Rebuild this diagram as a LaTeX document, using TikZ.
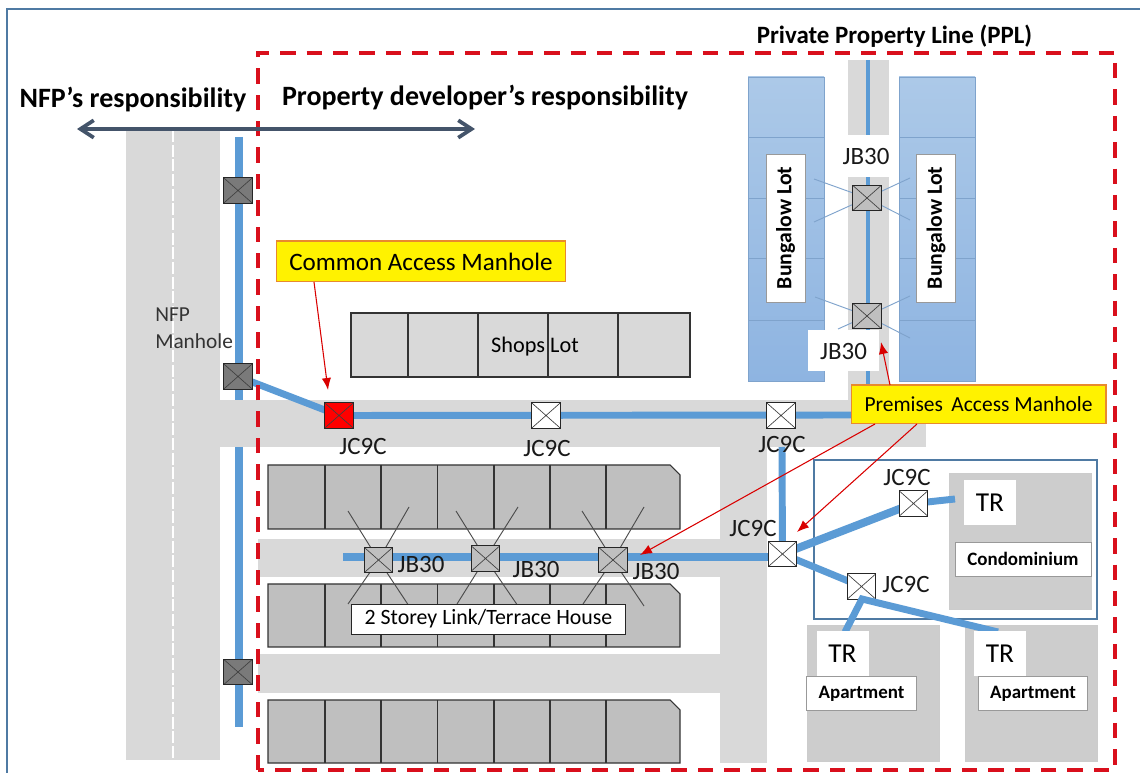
\documentclass[tikz,border=0pt]{standalone}
\usepackage{fontspec}
\setmainfont{Carlito}
\usetikzlibrary{arrows.meta}
\pgfdeclarelayer{scene}\pgfdeclarelayer{pipes}
\pgfsetlayers{scene,pipes,main}
\definecolor{road}{HTML}{D9D9D9}
\definecolor{house}{HTML}{BFBFBF}
\definecolor{plot}{HTML}{CDCDCD}
\definecolor{pipe}{HTML}{5B9BD5}
\definecolor{ppl}{HTML}{D90F1C}
\definecolor{slate}{HTML}{44546A}
\definecolor{frameblue}{HTML}{4F7AA3}
\definecolor{lotline}{HTML}{7FA3CC}
\definecolor{lottop}{HTML}{ACC9E8}
\definecolor{lotbot}{HTML}{8EB4E1}
\definecolor{calloutedge}{HTML}{E88A2E}
\tikzset{
  mh/.style={draw=black!85,line width=.8pt,minimum width=21.5pt,minimum height=19pt,inner sep=0,
    path picture={\draw[black!75,line width=.5pt] (path picture bounding box.north west)--(path picture bounding box.south east)
      (path picture bounding box.north east)--(path picture bounding box.south west);}},
  nfpmh/.style={mh,fill=black!52},
  jb/.style={mh,fill=house},
  jc/.style={mh,fill=white},
  cam/.style={mh,fill=red},
  bigpipe/.style={pipe,line width=5.5pt},
  midpipe/.style={pipe,line width=5.2pt},
  thinpipe/.style={pipe,line width=2.7pt},
  xline/.style={black!70,line width=.7pt},
  lotx/.style={lotline,line width=.7pt},
  lbl/.style={font=\fontsize{18.7}{20}\selectfont,text=black!90,inner sep=0},
  head/.style={font=\fontsize{21}{23}\selectfont\bfseries,inner sep=0},
  callout/.style={draw=calloutedge,line width=1pt,fill=yellow,inner sep=0},
  whitebox/.style={fill=white,inner sep=0},
  graybox/.style={draw=black!40,line width=.7pt,fill=white,inner sep=0,font=\fontsize{14.2}{16}\selectfont\bfseries},
  redarrow/.style={red!85!black,line width=.8pt,-{Latex[length=9pt,width=7pt]}},
  hrow/.style={draw=black!80,line width=.8pt,fill=house},
}
\begin{document}
\begin{tikzpicture}[x=0.75pt,y=-0.75pt]
\useasboundingbox (0,0) rectangle (1140,773);
\begin{pgfonlayer}{scene}
  \fill[white] (0,0) rectangle (1140,773);
  \draw[frameblue,line width=1.3pt] (1140,9) -- (7,9) -- (7,773);
  % roads
  \fill[road] (126,130) rectangle (220,760);
  \fill[road] (220,400) rectangle (926,447);
  \fill[road] (258,539) rectangle (720,577);
  \fill[road] (258,654) rectangle (720,693);
  \fill[road] (720,447) rectangle (767,763);
  \fill[road] (848,60) rectangle (889,400);
  \draw[white,line width=1pt,dash pattern=on 9pt off 2pt] (173,130) -- (173,760);
  % bungalow lots
  \foreach \xa/\xb in {748/824,899/975}{
    \shade[top color=lottop,bottom color=lotbot,draw=lotline,line width=.6pt] (\xa,77) rectangle (\xb,381);
    \foreach \y in {137.5,198,258,320} \draw[lotline,line width=.6pt] (\xa,\y) -- (\xb,\y);
  }
  % shops
  \draw[draw=black!80,line width=.8pt,fill=road] (351,313) rectangle (690,377);
  \foreach \x in {408,478,548,618} \draw[black!80,line width=.8pt] (\x,313) -- (\x,377);
  % houses
  \foreach \t/\b in {465/529,584/647,700/763}{
    \draw[hrow] (268,\t) -- (670,\t) -- (680,{\t+10}) -- (680,\b) -- (268,\b) -- cycle;
    \foreach \x in {325,381,437.5,494,550,606} \draw[black!80,line width=.8pt] (\x,\t) -- (\x,\b);
  }
  % condominium and apartments
  \draw[frameblue,line width=1.3pt] (814,460) rectangle (1097,619);
  \draw[draw=black!20,fill=plot] (949,473) rectangle (1091,609);
  \draw[draw=black!20,fill=plot] (807,625) rectangle (939,761);
  \draw[draw=black!20,fill=plot] (965,625) rectangle (1097,761);
\end{pgfonlayer}
% manholes
\node[nfpmh] (n1) at (238,190.5) {};
\node[nfpmh] (n2) at (238,376.5) {};
\node[nfpmh] (n3) at (238,672) {};
\node[cam] (c1) at (339,415.5) {};
\node[jc] (j1) at (546,415.5) {};
\node[jc] (j2) at (781,415.5) {};
\node[jb] (b1) at (867,198) {};
\node[jb] (b2) at (867,316) {};
\node[jb] (r1) at (378.5,560) {};
\node[jb] (r2) at (485.5,558.5) {};
\node[jb] (r3) at (613,560) {};
\node[jc] (j3) at (782.5,554) {};
\node[jc] (j4) at (913.5,503.5) {};
\node[jc] (j5) at (861.5,586.5) {};
% coordinates for pipe ends
\coordinate (pa) at (239,137);
\coordinate (pb) at (239,400);
\coordinate (pc) at (239,447);
\coordinate (pd) at (239,727);
\coordinate (pe) at (868,60);
\coordinate (pf) at (868,400);
\coordinate (pg) at (860,415);
\coordinate (ph) at (343,557);
\coordinate (pi) at (782,447);
\coordinate (pj) at (955,499);
\coordinate (pl) at (845,632);
\coordinate (pm) at (998,632);
\coordinate (pk) at (862,599);
\begin{pgfonlayer}{pipes}
  \draw[bigpipe] (pa) -- (pb);
  \draw[bigpipe] (pc) -- (pd);
  \draw[midpipe] (n2.center) -- (c1.center);
  \draw[midpipe] (c1.center) -- (pg);
  \draw[thinpipe] (pe) -- (pf);
  \draw[bigpipe] (ph) -- (j3.west |- ph);
  \draw[midpipe] (pi) -- (j3.center);
  \draw[bigpipe,line width=6pt] (j3.center) -- (j4.center);
  \draw[midpipe] (j4.center) -- (pj);
  \draw[midpipe] (j3.center) -- (j5.center);
  % service drops
  \foreach \p/\n/\x/\y in {r1/ra/348/511,r1/rb/409/507,r1/rc/348/604,r1/rd/409/606,
      r2/re/456/511,r2/rf/518/507,r2/rg/457/604,r2/rh/518/606,
      r3/ri/582/511,r3/rj/644/507,r3/rk/583/604,r3/rl/644/606}{
    \coordinate (\n) at (\x,\y);
    \draw[xline] (\p.center) -- (\n);
  }
  \foreach \p/\n/\x/\y in {b1/la/814/179,b1/lb/814/222,b1/lc/910/178,b1/ld/910/220,
      b2/le/815/297,b2/lf/838/329,b2/lg/910/296,b2/lh/910/338}{
    \coordinate (\n) at (\x,\y);
    \draw[lotx] (\p.center) -- (\n);
  }
\end{pgfonlayer}
% branch from the lower junction sits over its box edge
\draw[midpipe,line join=miter] (pl) -- (pk) -- (pm);
% white label boxes
\node[whitebox,minimum width=30.75pt,minimum height=31.5pt] at (868.5,156) (jbt) {};
\node[whitebox,minimum width=53pt,minimum height=31pt] at (843.5,350.5) (jbb) {};
\node[lbl] (jbtt) at (866,156) {JB30};
\node[lbl] (jbbt) at (843.5,351) {JB30};
\node[draw=black!40,line width=.5pt,fill=white,minimum width=29pt,minimum height=111pt,inner sep=0] (bl1) at (785.5,228) {\rotatebox{90}{\fontsize{16.3}{18}\selectfont\bfseries Bungalow Lot}};
\node[draw=black!40,line width=.5pt,fill=white,minimum width=29pt,minimum height=111pt,inner sep=0] (bl2) at (936,228) {\rotatebox{90}{\fontsize{16.3}{18}\selectfont\bfseries Bungalow Lot}};
\node[draw=black!85,line width=.7pt,fill=white,minimum width=206pt,minimum height=22.5pt,inner sep=0,font=\fontsize{16.4}{18}\selectfont] (terrace) at (488.5,619) {\raisebox{-1pt}{2 Storey Link/Terrace House}};
\node[font=\fontsize{16.7}{18}\selectfont,inner sep=0] (shops) at (535,346.5) {Shops Lot};
\node[align=left,font=\fontsize{16}{20.25}\selectfont,text=black!80,inner sep=0,anchor=west] (nfpm) at (155,328) {NFP\\Manhole};
% TR and plot labels
\foreach \n/\x/\y in {tr1/990/502.5,tr2/842.5/653.5,tr3/1000/653.5}{
  \node[whitebox,minimum width=39pt,minimum height=34pt,font=\fontsize{20.5}{22}\selectfont] (\n) at (\x,\y) {TR};
}
\node[graybox,minimum width=102pt,minimum height=25.5pt] (condo) at (1023,559) {Condominium};
\node[graybox,minimum width=82pt,minimum height=25pt] (apt1) at (861.5,693.5) {\raisebox{-1pt}{Apartment}};
\node[graybox,minimum width=82pt,minimum height=25pt] (apt2) at (1033,693.5) {\raisebox{-1pt}{Apartment}};
% JC / JB labels
\node[lbl] (l1) at (363,446) {JC9C};
\node[lbl] (l2) at (547,448) {JC9C};
\node[lbl] (l3) at (782,444) {JC9C};
\node[lbl] (l4) at (753,528) {JC9C};
\node[lbl] (l5) at (907,477) {JC9C};
\node[lbl] (l6) at (906,584) {JC9C};
\node[lbl] (l7) at (421,564) {JB30};
\node[lbl] (l8) at (536,569) {JB30};
\node[lbl] (l9) at (656,571) {JB30};
% property line
\draw[ppl,line width=3pt,dash pattern=on 11.6pt off 8.2pt] (258,770) -- (258,53) -- (1115,53) -- (1115,770) -- cycle;
% responsibility
\coordinate (ra1) at (77,129);
\coordinate (ra2) at (475,129);
\draw[slate,line width=2.8pt,{Straight Barb[length=10pt,width=13pt]}-{Straight Barb[length=10pt,width=13pt]}] (ra1) -- (ra2);
\node[head] (h1) at (133,99.5) {NFP’s responsibility};
\node[head] (h2) at (485,97.5) {Property developer’s responsibility};
\node[font=\fontsize{18.7}{20}\selectfont\bfseries,inner sep=0] (h3) at (894.5,36.5) {Private Property Line (PPL)};
% callouts
\node[callout,minimum width=217pt,minimum height=30.5pt,font=\fontsize{18.8}{20}\selectfont] (cc) at (421,261.5) {Common Access Manhole};
\node[callout,minimum width=191pt,minimum height=29pt,font=\fontsize{16.1}{18}\selectfont] (pc2) at (978.5,404.5) {Premises\, Access Manhole};
\coordinate (cca) at (314,282);
\coordinate (ccb) at (328,390);
\draw[redarrow] (cca) -- (ccb);
\coordinate (pa1) at (890,385);
\coordinate (pa2) at (881,342);
\draw[redarrow] (pa1) -- (pa2);
\coordinate (pb1) at (875,424);
\coordinate (pb2) at (640,555);
\draw[redarrow] (pb1) -- (pb2);
\coordinate (pc1) at (917,424);
\coordinate (pc3) at (797,532);
\draw[redarrow] (pc1) -- (pc3);
\end{tikzpicture}
\end{document}
